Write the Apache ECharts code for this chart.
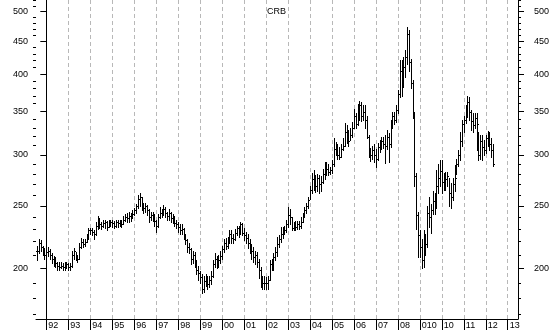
<!DOCTYPE html>
<html><head><meta charset="utf-8">
<script src="https://cdn.jsdelivr.net/npm/echarts@6/dist/echarts.min.js"></script>
<style>html,body{margin:0;padding:0;background:#fff}#c{width:553px;height:330px}</style>
</head><body><div id="c"></div>
<script>
// Monthly CRB bars, first bar = Aug 1991 (month index relative to Jan 1992)
const firstMonthIndex = -5;
const closeValues = [
213,219,216,214,210,
212,213,210,207,206,204,202,201,202,201,202,203,
201,202,210,213,208,207,216,220,218,220,223,229,
229,228,226,233,237,234,233,235,236,232,235,236,
235,233,236,235,236,234,238,240,239,241,240,243,
246,250,256,258,250,248,250,246,240,242,241,237,
233,240,244,243,247,244,241,244,239,240,235,234,
232,229,230,225,221,216,214,207,210,206,199,197,
194,186,191,193,189,192,195,203,207,204,206,209,
214,219,217,221,226,223,222,227,231,228,234,227,
225,223,219,216,213,208,210,205,199,192,190,190,
190,192,203,201,208,212,218,222,226,228,229,234,
242,240,231,233,232,234,233,236,240,246,250,255,
265,275,272,268,276,270,272,280,286,285,282,284,
290,306,309,300,298,306,310,325,318,315,322,330,
345,335,350,358,345,350,340,320,302,300,305,300,
296,308,310,315,312,310,320,312,330,345,340,352,
372,405,392,410,425,462,418,388,350,278,242,225,
216,206,215,218,244,240,246,254,250,268,276,283,
272,278,275,278,262,258,270,276,290,300,315,335,
340,352,362,350,338,333,342,335,300,315,308,305,
318,322,312,305,290];
const highValues = [
217,222,221,217,215,
215,216,214,211,209,208,205,205,205,204,205,205,
204,204,213,215,212,210,219,223,222,222,226,231,
231,231,229,236,241,239,236,238,238,237,238,238,
238,237,238,238,238,238,241,243,244,245,244,246,
248,252,260,262,258,253,253,251,247,245,245,243,
238,243,249,247,251,249,245,247,245,243,241,238,
236,234,234,231,226,222,219,215,213,212,206,202,
198,196,195,196,195,195,198,206,211,209,210,213,
217,222,223,224,229,229,226,230,233,233,236,235,
231,228,226,222,218,216,213,212,207,201,195,195,
194,195,206,207,211,216,224,225,232,232,233,238,
249,247,240,236,237,237,237,240,244,249,253,258,
268,281,284,279,280,279,278,285,292,292,290,287,
294,318,314,312,308,312,318,336,333,328,330,337,
353,348,360,364,362,358,358,345,322,307,310,312,
306,313,316,320,320,322,328,324,340,350,350,358,
378,420,420,425,436,474,468,422,392,348,281,245,
229,222,229,226,250,258,252,264,262,284,290,294,
294,281,282,282,276,271,276,289,296,305,325,340,
345,358,370,368,352,348,348,348,325,322,322,316,
322,326,325,318,312];
const lowValues = [
206,211,213,210,207,
208,209,207,204,202,201,199,199,200,199,199,200,
199,199,201,207,206,205,207,215,216,217,220,222,
226,225,222,225,230,231,230,232,231,229,232,233,
232,231,232,232,233,232,234,237,236,236,237,239,
242,244,248,250,246,244,245,242,236,238,237,233,
228,232,239,240,242,240,238,238,236,235,233,231,
228,226,226,222,218,212,211,203,204,201,196,192,
190,183,184,188,186,187,189,194,201,200,201,204,
207,212,214,215,219,219,219,221,225,224,226,225,
221,219,215,211,207,205,203,201,193,187,186,186,
186,186,192,199,199,206,209,216,220,223,226,228,
232,234,229,229,229,230,230,231,236,240,244,248,
256,262,265,263,264,262,264,271,275,279,279,280,
281,288,300,295,295,298,305,310,313,310,316,320,
330,330,334,340,338,340,330,318,298,293,296,292,
287,294,303,306,307,291,306,292,308,330,335,337,
348,368,370,382,396,415,405,380,342,268,230,208,
208,200,201,210,216,232,227,243,243,248,262,268,
262,265,265,268,250,248,255,264,280,288,294,310,
325,336,343,340,328,325,330,305,294,296,294,300,
302,310,305,298,288];
const yearLabels = ['92','93','94','95','96','97','98','99','00','01','02','03','04','05','06','07','08','010','10','11','12','13'];
const yMajorTicks = [200,250,300,350,400,450,500];
const yMinorTicks = [170,180,190,210,220,230,240,260,270,280,290,310,320,330,340,360,370,380,390,410,420,430,440,460,470,480,490,510,520];
const titleText = 'CRB';

const yearValues = yearLabels.map((_, i) => i * 12);
const ohlc = closeValues.map((c, i) => [firstMonthIndex + i, i > 0 ? closeValues[i - 1] : c, highValues[i], lowValues[i], c]);

const FONT = 'Liberation Sans';
const chart = echarts.init(document.getElementById('c'), null, {renderer: 'canvas'});

function yAxisDef(pos, major) {
  return {
    type: 'log', logBase: 10, min: 167, max: 521, position: pos,
    splitLine: {show: false},
    axisLine: {show: major, lineStyle: {color: '#000', width: 1}},
    axisTick: {show: true, customValues: major ? yMajorTicks : yMinorTicks, length: major ? 6 : 3, lineStyle: {color: '#000', width: 1}},
    axisLabel: {show: major, customValues: yMajorTicks, margin: pos === 'left' ? 8 : 16, color: '#000', fontFamily: FONT, fontSize: 9,
                formatter: v => String(Math.round(v))}
  };
}

chart.setOption({
  animation: false,
  backgroundColor: '#fff',
  title: {text: titleText, left: 'center', top: 2, textStyle: {fontFamily: FONT, fontSize: 9, fontWeight: 'normal', color: '#000'}},
  grid: {left: 36, right: 35, top: 0, bottom: 11, containLabel: false, outerBoundsMode: 'none'},
  xAxis: {
    type: 'value', min: -5.63, max: 257.6,
    axisLine: {show: true, lineStyle: {color: '#000', width: 1}},
    axisTick: {show: true, customValues: yearValues, length: 11, lineStyle: {color: '#000'}},
    axisLabel: {show: true, customValues: yearValues, margin: 2, align: 'left', padding: [0, 0, 0, 2], color: '#000', fontFamily: FONT, fontSize: 9,
                formatter: v => yearLabels[Math.round(v / 12)]},
    splitLine: {show: true, lineStyle: {color: '#b8b8b8', type: [4, 3], width: 1}}
  },
  yAxis: [yAxisDef('left', true), yAxisDef('left', false), yAxisDef('right', true), yAxisDef('right', false)],
  series: [{
    type: 'custom', clip: true, xAxisIndex: 0, yAxisIndex: 0,
    data: ohlc,
    encode: {x: 0, y: [1, 2, 3, 4]},
    renderItem: function (params, api) {
      const m = api.value(0);
      const hi = api.coord([m, api.value(2)]);
      const lo = api.coord([m, api.value(3)]);
      const op = api.coord([m, api.value(1)]);
      const cl = api.coord([m, api.value(4)]);
      const x = Math.round(hi[0]);
      const yh = Math.round(hi[1]), yl = Math.round(lo[1]);
      const s = {fill: '#000'};
      return {type: 'group', children: [
        {type: 'rect', shape: {x: x, y: yh, width: 1, height: Math.max(1, yl - yh + 1)}, style: s},
        {type: 'rect', shape: {x: x - 1, y: Math.round(op[1]), width: 1, height: 1}, style: s},
        {type: 'rect', shape: {x: x + 1, y: Math.round(cl[1]), width: 1, height: 1}, style: s}
      ]};
    }
  }]
});
</script></body></html>
